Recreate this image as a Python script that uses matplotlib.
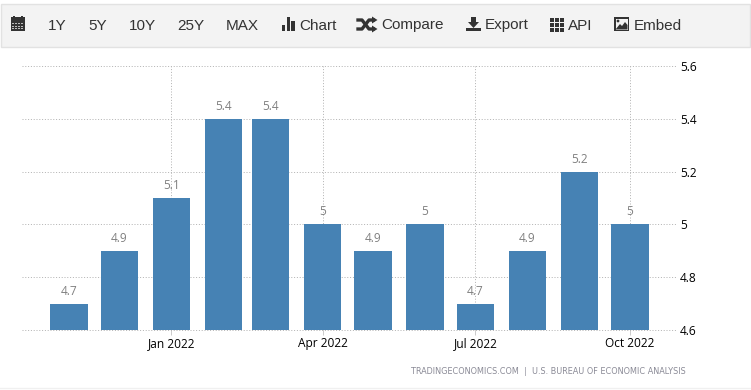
import matplotlib
matplotlib.use("Agg")
import matplotlib.pyplot as plt
import matplotlib.dates as mdates
from matplotlib.patches import Rectangle, Polygon, Circle
from datetime import date

W, H = 751, 390
months = [date(2021,11,1), date(2021,12,1), date(2022,1,1), date(2022,2,1), date(2022,3,1), date(2022,4,1),
          date(2022,5,1), date(2022,6,1), date(2022,7,1), date(2022,8,1), date(2022,9,1), date(2022,10,1)]
values = [4.7, 4.9, 5.1, 5.4, 5.4, 5.0, 4.9, 5.0, 4.7, 4.9, 5.2, 5.0]
labels = ["4.7", "4.9", "5.1", "5.4", "5.4", "5", "4.9", "5", "4.7", "4.9", "5.2", "5"]
y_ticks = [4.6, 4.8, 5.0, 5.2, 5.4, 5.6]
y_tick_labels = ["4.6", "4.8", "5", "5.2", "5.4", "5.6"]
x_ticks = [date(2022,1,1), date(2022,4,1), date(2022,7,1), date(2022,10,1)]
x_tick_labels = ["Jan 2022", "Apr 2022", "Jul 2022", "Oct 2022"]
menu_items = [("1Y", 48), ("5Y", 88), ("10Y", 129), ("25Y", 177), ("MAX", 226), ("Chart", 299),
              ("Compare", 381), ("Export", 485), ("API", 568), ("Embed", 634)]
source = "TRADINGECONOMICS.COM  |  U.S. BUREAU OF ECONOMIC ANALYSIS"

fig = plt.figure(figsize=(W/100, H/100), dpi=100, facecolor="white")

bg = fig.add_axes([0, 0, 1, 1], zorder=0)
bg.set_xlim(0, W); bg.set_ylim(H, 0); bg.axis("off")
bg.add_patch(Rectangle((0.5, 3.5), 749, 43, fc="#f3f3f3", ec="#e2e2e2", lw=1))
bg.plot([0, W], [387.5, 387.5], color="#f0f0f0", lw=1)
for t, x in menu_items:
    bg.text(x, 25.5, t, fontsize=11, family="Liberation Sans", color="#333333", va="center", ha="left")

ic = "#333333"
# calendar
bg.add_patch(Rectangle((10.5, 17), 14.5, 14, fc=ic, ec="none"))
for xx in (13, 16, 19, 22):
    for yy in (23, 25.5, 28):
        bg.add_patch(Rectangle((xx-0.7, yy), 1.6, 1.4, fc="#bbbbbb", ec="none"))
bg.add_patch(Rectangle((13, 16), 1.5, 2, fc=ic)); bg.add_patch(Rectangle((21, 16), 1.5, 2, fc=ic))
# chart bars
for x0, top in ((281.5, 25), (286.5, 17), (291, 21)):
    bg.add_patch(Rectangle((x0, top), 3.5, 31-top, fc=ic, ec="none"))
# shuffle
bg.plot([358, 362, 369, 373], [20, 20, 29, 29], color=ic, lw=2.4)
bg.plot([358, 362, 369, 373], [29, 29, 20, 20], color=ic, lw=2.4)
bg.add_patch(Polygon([(372, 16.5), (377.5, 20), (372, 23.5)], fc=ic, ec="none"))
bg.add_patch(Polygon([(372, 25.5), (377.5, 29), (372, 32.5)], fc=ic, ec="none"))
# export
bg.add_patch(Rectangle((471, 17), 5, 6, fc=ic, ec="none"))
bg.add_patch(Polygon([(468, 22), (479, 22), (473.5, 28)], fc=ic, ec="none"))
bg.add_patch(Rectangle((466, 28), 15, 3, fc=ic, ec="none"))
# API grid
for cx in (549.5, 554.5, 559.5):
    for cy in (17.5, 22.5, 27.5):
        bg.add_patch(Rectangle((cx, cy), 4, 4, fc=ic, ec="none"))
# embed
bg.add_patch(Rectangle((614, 17), 15, 14, fc=ic, ec="none"))
bg.add_patch(Rectangle((615.5, 18.5), 12, 11, fc="#f3f3f3", ec="none"))
bg.add_patch(Polygon([(615.5, 29.5), (620, 24), (622, 26), (625, 22), (627.5, 25), (627.5, 29.5)], fc=ic, ec="none"))
bg.add_patch(Circle((618, 21), 1.4, fc=ic, ec="none"))

# chart
L, R, T, B = 22, 677, 66, 330
ax = fig.add_axes([L/W, 1-B/H, (R-L)/W, (B-T)/H], zorder=1)
ax.patch.set_alpha(0)
xs = mdates.date2num(months)
px_per_day = 458.5/273
x0 = mdates.date2num(date(2022,1,1)) - (171.5-L)/px_per_day
ax.set_xlim(x0, x0 + (R-L)/px_per_day)
ax.set_ylim(4.6, 5.6)
ax.bar(xs, [v-4.6 for v in values], bottom=4.6, width=37.5/px_per_day, color="#4682b4", zorder=3)
tick_font = "Open Sans"
for x, v, s in zip(xs, values, labels):
    ax.annotate(s, (x, v), xytext=(0, 6), textcoords="offset pixels", ha="center", va="bottom",
                fontsize=8.6, family=tick_font, color="#808080", zorder=4)

ax.set_yticks(y_ticks, y_tick_labels)
ax.yaxis.tick_right()
ax.set_xticks(mdates.date2num(x_ticks), x_tick_labels)
ax.tick_params(axis="y", length=0, pad=2, labelsize=8.6, labelcolor="black")
ax.tick_params(axis="x", length=3.5, width=0.72, color="#cccccc", pad=1.5, labelsize=8.6, labelcolor="black")
for lbl in ax.get_xticklabels() + ax.get_yticklabels():
    lbl.set_family(tick_font)
ax.grid(True, color="#b4b4b4", lw=0.72, ls=(0, (1, 1.8)), zorder=1)
for gl in ax.get_xgridlines() + ax.get_ygridlines():
    gl.set_clip_on(False)
ax.set_axisbelow(True)
for s in ax.spines.values():
    s.set_visible(False)

bg.text(411, 371.5, source, fontsize=5.85, color="#8a8a96", va="center", ha="left")

fig.savefig("out.png", dpi=100)
